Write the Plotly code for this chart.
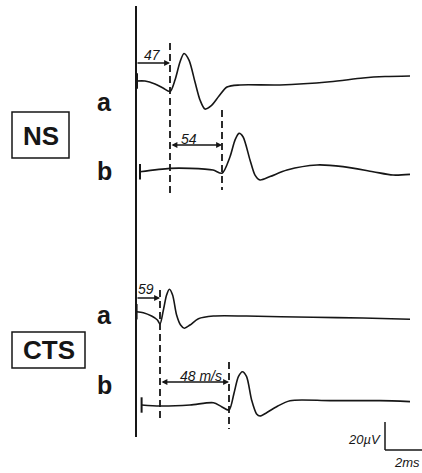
import plotly.graph_objects as go

# ---------------- data (time in ms after stimulus, amplitude in µV re. baseline) -------------
ns_a_time = [0.05, 0.45, 0.95, 1.35, 1.7, 1.95, 2.2, 2.4, 2.65, 2.95, 3.2, 3.45, 3.75, 4.15,
             4.55, 5.2, 7.2, 9.7, 11.35, 12.45, 13.7]
ns_a_uv = [1.4, 1.4, -0.7, -3.6, -6.1, 2.1, 15.0, 21.1, 16.4, 0.7, -12.1, -18.6, -16.4, -9.3,
           -2.9, -1.4, -1.4, 0.9, 3.6, 4.6, 5.0]

ns_b_time = [0.2, 1.7, 2.7, 3.85, 4.3, 4.7, 4.95, 5.15, 5.35, 5.7, 5.95, 6.2, 6.7, 7.55,
             9.05, 10.35, 11.85, 12.85, 13.7]
ns_b_uv = [-0.5, 1.9, 1.9, 0.7, -1.6, 10.2, 22.1, 26.9, 24.5, 7.9, -2.9, -6.4, -4.0, 0.7,
           4.3, 3.1, -0.5, -2.9, -2.4]

cts_a_time = [0.03, 0.37, 0.78, 1.07, 1.2, 1.37, 1.53, 1.67, 1.83, 2.03, 2.23, 2.42, 2.7,
              3.12, 3.87, 5.53, 8.85, 11.35, 13.7]
cts_a_uv = [0.2, -0.5, -2.9, -5.7, -8.6, 1.4, 12.1, 16.2, 12.1, -2.1, -9.3, -11.6, -9.3,
            -4.8, -2.9, -2.9, -3.8, -4.3, -5.2]

cts_b_time = [0.28, 1.2, 2.7, 3.87, 4.28, 4.65, 4.9, 5.12, 5.32, 5.53, 5.78, 6.03, 6.2,
              6.53, 7.03, 7.7, 9.7, 12.2, 13.7]
cts_b_uv = [0.0, -0.7, 0.0, 1.6, -1.2, -3.6, 8.4, 20.2, 23.8, 20.2, 3.6, -6.4, -7.9,
            -5.5, -1.2, 3.1, 3.1, 3.1, 2.4]

# onset latencies (ms) marked by dashed lines, and conduction-velocity labels
ns_onsets = [1.7, 4.3]
ns_labels = ["47", "54"]
cts_onsets = [1.2, 4.65]
cts_labels = ["59", "48 m/s"]

group_labels = ["NS", "CTS"]
trace_labels = ["a", "b"]

scale_ms = 2
scale_uv = 20
scale_ms_label = "2ms"
scale_uv_label = "20µV"

# ---------------- layout geometry ----------------
W, H = 422, 473
PX_MS = 20.0      # px per ms
PX_UV = 1.4       # px per µV
X0_PX = 136       # stimulus line position


def ux(px):
    return (px - X0_PX) / PX_MS


def uy(py):
    return (H - py) / PX_UV


baselines = {"ns_a": uy(83), "ns_b": uy(171), "cts_a": uy(312), "cts_b": uy(405)}
INK = "#161616"
TXT_FONT = "Liberation Sans, Arial, sans-serif"

fig = go.Figure()

series = [
    (ns_a_time, ns_a_uv, "ns_a"),
    (ns_b_time, ns_b_uv, "ns_b"),
    (cts_a_time, cts_a_uv, "cts_a"),
    (cts_b_time, cts_b_uv, "cts_b"),
]
for t, v, key in series:
    base = baselines[key]
    fig.add_trace(go.Scatter(
        x=t, y=[base + a for a in v], mode="lines",
        line=dict(color=INK, width=1.6, shape="spline", smoothing=0.8),
        hoverinfo="skip", showlegend=False,
    ))
    # small stimulus tick at the start of each trace
    fig.add_trace(go.Scatter(
        x=[t[0]], y=[base + v[0]], mode="markers",
        marker=dict(symbol="line-ns", size=11, line=dict(color=INK, width=2)),
        hoverinfo="skip", showlegend=False,
    ))

shapes = []
# stimulus line
shapes.append(dict(type="line", xref="x", yref="y", x0=0, x1=0, y0=uy(6), y1=uy(437),
                   line=dict(color=INK, width=2)))

# dashed onset lines (pixel extents)
dash_extents = [(43, 193), (110, 190), (290, 420), (362, 429)]
onsets = ns_onsets + cts_onsets
for t, (p0, p1) in zip(onsets, dash_extents):
    shapes.append(dict(type="line", xref="x", yref="y", x0=t, x1=t, y0=uy(p0), y1=uy(p1),
                       line=dict(color=INK, width=1.8, dash="7px,4px")))

# group boxes
shapes.append(dict(type="rect", xref="x", yref="y", x0=ux(12), x1=ux(69), y0=uy(112), y1=uy(158),
                   line=dict(color=INK, width=1.5)))
shapes.append(dict(type="rect", xref="x", yref="y", x0=ux(12), x1=ux(85), y0=uy(332), y1=uy(368),
                   line=dict(color=INK, width=1.5)))

# scale bar
sx, sy = ux(385), uy(450)
shapes.append(dict(type="line", xref="x", yref="y", x0=sx, x1=sx, y0=sy, y1=sy + scale_uv,
                   line=dict(color=INK, width=1.5)))
shapes.append(dict(type="line", xref="x", yref="y", x0=sx, x1=sx + scale_ms, y0=sy, y1=sy,
                   line=dict(color=INK, width=1.5)))

annotations = []
# latency arrows
arrow_rows = [(0, ns_onsets[0], 63, "end"), (ns_onsets[0], ns_onsets[1], 145, "end+start"),
              (0, cts_onsets[0], 298, "end"), (cts_onsets[0], cts_onsets[1], 382, "end+start")]
arrow_texts = ns_labels + cts_labels
text_pos = [(152, 55), (189, 139), (146, 289), (201, 376)]
for (t0, t1, py, side), txt, (tx, ty) in zip(arrow_rows, arrow_texts, text_pos):
    annotations.append(dict(x=t1, y=uy(py), ax=t0, ay=uy(py), xref="x", yref="y",
                            axref="x", ayref="y", showarrow=True, arrowhead=2, startarrowhead=2,
                            arrowside=side, arrowsize=0.9, startarrowsize=0.9, arrowwidth=1.3,
                            arrowcolor=INK, text="", standoff=0, startstandoff=0))
    annotations.append(dict(x=ux(tx), y=uy(ty), xref="x", yref="y", text="<i>" + txt + "</i>",
                            showarrow=False, font=dict(family=TXT_FONT, size=14, color=INK)))

# trace letters
for py in [102, 171, 315, 385]:
    idx = [102, 171, 315, 385].index(py) % 2
    annotations.append(dict(x=ux(104), y=uy(py), xref="x", yref="y",
                            text="<b>" + trace_labels[idx] + "</b>", showarrow=False,
                            font=dict(family=TXT_FONT, size=25, color=INK)))

# group names
annotations.append(dict(x=ux(40.5), y=uy(136), xref="x", yref="y", text="<b>" + group_labels[0] + "</b>",
                        showarrow=False, font=dict(family=TXT_FONT, size=26, color=INK)))
annotations.append(dict(x=ux(48.5), y=uy(350), xref="x", yref="y", text="<b>" + group_labels[1] + "</b>",
                        showarrow=False, font=dict(family=TXT_FONT, size=26, color=INK)))

# scale labels
annotations.append(dict(x=ux(383), y=uy(439), xref="x", yref="y", xanchor="right",
                        text="<i>" + scale_uv_label + "</i>", showarrow=False,
                        font=dict(family=TXT_FONT, size=13, color=INK)))
annotations.append(dict(x=ux(392), y=uy(462), xref="x", yref="y", xanchor="left",
                        text="<i>" + scale_ms_label + "</i>", showarrow=False,
                        font=dict(family=TXT_FONT, size=13, color=INK)))

fig.update_layout(
    width=W, height=H,
    margin=dict(l=0, r=0, t=0, b=0),
    paper_bgcolor="white", plot_bgcolor="white",
    xaxis=dict(range=[ux(0), ux(W)], visible=False, fixedrange=True),
    yaxis=dict(range=[uy(H), uy(0)], visible=False, fixedrange=True),
    shapes=shapes, annotations=annotations, showlegend=False,
)

fig.write_html("out.html", config={"displayModeBar": False},
               post_script="document.body.style.margin='0';document.body.style.overflow='hidden';")
